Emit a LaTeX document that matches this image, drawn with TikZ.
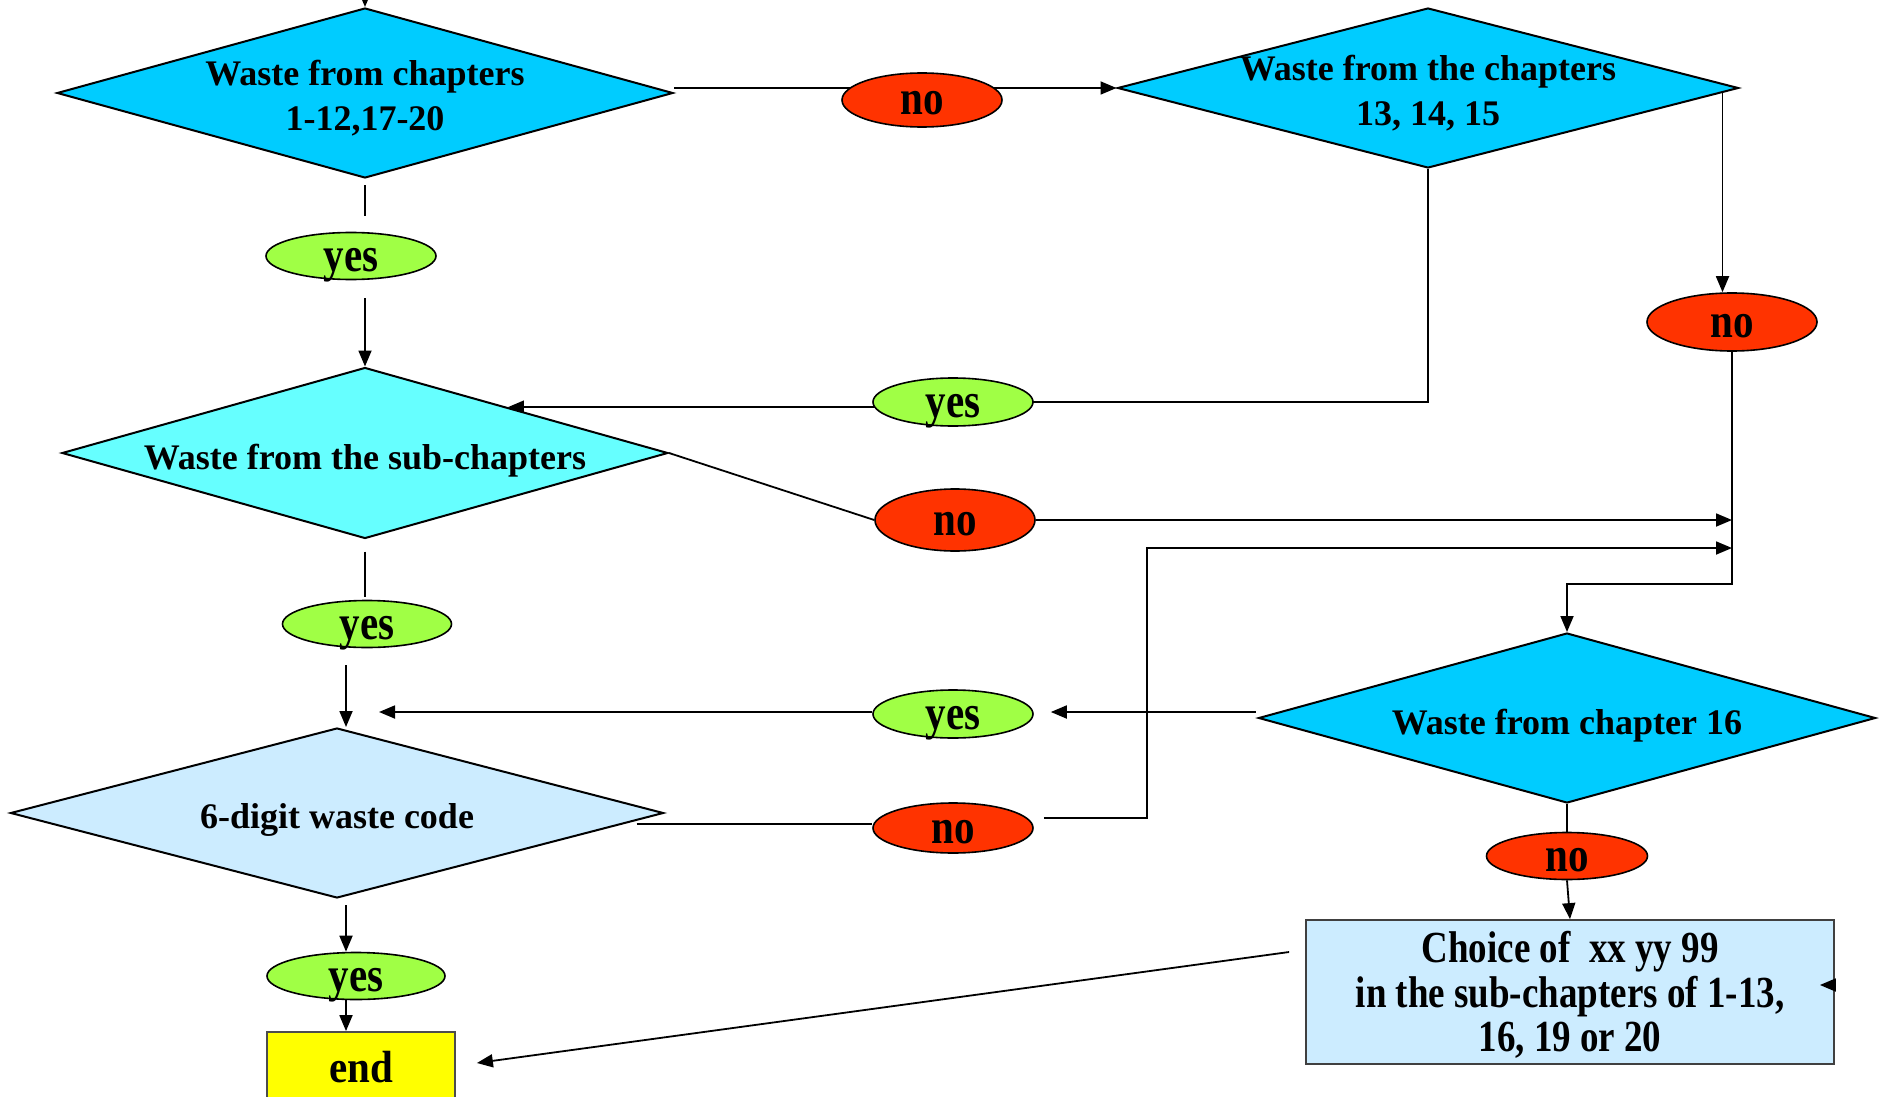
\documentclass[tikz,border=0pt]{standalone}
\usepackage{fontspec}
\setmainfont{Liberation Serif}
\usetikzlibrary{shapes.geometric, arrows.meta, calc}
\pgfdeclarelayer{bg}
\pgfsetlayers{bg,main}
\definecolor{dcyan}{HTML}{00CCFF}
\definecolor{lcyan}{HTML}{66FFFF}
\definecolor{pale}{HTML}{CCECFF}
\definecolor{nored}{HTML}{FF3300}
\definecolor{yesgreen}{HTML}{A0FF45}
\definecolor{endyellow}{HTML}{FFFF00}
\tikzset{
  dia/.style={diamond, draw=black, line width=1pt, inner sep=0pt},
  dtext/.style={align=center, font=\fontsize{18}{22.5}\selectfont\bfseries, inner sep=0pt, yshift=-2.5pt},
  dtext1/.style={dtext, yshift=-1.2pt},
  ell/.style={ellipse, draw=black, line width=0.8pt, inner sep=0pt},
  yesell/.style={ell, fill=yesgreen},
  noell/.style={ell, fill=nored},
  lbl/.style={font=\fontsize{20.5}{24}\selectfont\bfseries, inner sep=0pt, text height=15pt, text depth=0pt},
  conn/.style={line width=0.9pt, black},
  arr/.style={conn, -{Triangle[length=8pt, width=6.5pt]}},
}
\begin{document}
\begin{tikzpicture}[x=0.5pt, y=-0.5pt]
\useasboundingbox (0,0) rectangle (1879,1097);
\clip (0,0) rectangle (1879,1097);
\begin{pgfonlayer}{bg}
\fill[white] (0,0) rectangle (1879,1097);
\end{pgfonlayer}

% decision diamonds
\node[dia, fill=dcyan, minimum width=308pt, minimum height=85pt] (A) at (365,93) {};
\node[dia, fill=dcyan, minimum width=310.5pt, minimum height=80pt] (B) at (1428,88) {};
\node[dia, fill=lcyan, minimum width=303pt, minimum height=85.5pt] (C) at (365,453) {};
\node[dia, fill=dcyan, minimum width=308.5pt, minimum height=85pt] (D) at (1567,718) {};
\node[dia, fill=pale, minimum width=326.5pt, minimum height=85pt] (E) at (337,813) {};

\node[dtext] (At) at (A) {Waste from chapters\\1-12,17-20};
\node[dtext] (Bt) at (B) {Waste from the chapters\\13, 14, 15};
\node[dtext1] (Ct) at (C) {Waste from the sub-chapters};
\node[dtext1] (Dt) at (D) {Waste from chapter 16};
\node[dtext1] (Et) at (E) {6-digit waste code};

% yes / no ellipses
\node[noell, minimum width=80pt, minimum height=27pt] (noA) at (922,100) {};
\node[yesell, minimum width=85pt, minimum height=23.5pt] (yes1) at (351,256) {};
\node[yesell, minimum width=80pt, minimum height=24pt] (yes2) at (953,402) {};
\node[noell, minimum width=80pt, minimum height=31pt] (noC) at (955,520) {};
\node[noell, minimum width=85pt, minimum height=29pt] (noB) at (1732,322) {};
\node[yesell, minimum width=84.5pt, minimum height=23.5pt] (yes3) at (367,624) {};
\node[yesell, minimum width=80pt, minimum height=24pt] (yes4) at (953,714) {};
\node[noell, minimum width=80pt, minimum height=25pt] (noD) at (953,828) {};
\node[yesell, minimum width=89pt, minimum height=23.5pt] (yes5) at (356,976) {};
\node[noell, minimum width=80.5pt, minimum height=23.5pt] (noE) at (1567,856) {};

\node[lbl] (noAt) at (noA) {\scalebox{1}[1.2]{no}};
\node[lbl] (yes1t) at (yes1) {\scalebox{1}[1.2]{yes}};
\node[lbl] (yes2t) at (yes2) {\scalebox{1}[1.2]{yes}};
\node[lbl] (noCt) at (noC) {\scalebox{1}[1.2]{no}};
\node[lbl] (noBt) at (noB) {\scalebox{1}[1.2]{no}};
\node[lbl] (yes3t) at (yes3) {\scalebox{1}[1.2]{yes}};
\node[lbl] (yes4t) at (yes4) {\scalebox{1}[1.2]{yes}};
\node[lbl] (noDt) at (noD) {\scalebox{1}[1.2]{no}};
\node[lbl] (yes5t) at (yes5) {\scalebox{1}[1.2]{yes}};
\node[lbl] (noEt) at (noE) {\scalebox{1}[1.2]{no}};

% boxes
\node[draw=black!75, fill=pale, line width=0.9pt, minimum width=264pt, minimum height=72pt,
      inner sep=0pt] (F) at (1570,992) {};
\node[inner sep=0pt, font=\fontsize{18.5}{18.3}\selectfont\bfseries, yshift=-3pt] (Ft) at (F)
  {\scalebox{1}[1.2]{\begin{tabular}{@{}c@{}}Choice of\ \ xx yy 99\\in the sub-chapters of 1-13,\\16, 19 or 20\end{tabular}}};
\node[draw=black!70, fill=endyellow, line width=0.9pt, minimum width=94pt, minimum height=35pt,
      inner sep=0pt, font=\fontsize{20.5}{24}\selectfont\bfseries] (fin) at (361,1067)
  {\scalebox{1}[1.1]{end}};

% small arrowhead inside F
\draw[arr] ($(F.east)+(0,-7)$) -- ++(-15,0);

% connectors
\begin{pgfonlayer}{bg}
\clip (0,0) rectangle (1879,1097);
\coordinate (topin) at (365,-14);
\draw[arr] (topin) -- (A.north);
% A -> no -> B
\draw[arr] (A.east |- B.west) -- (B.west);
% A -> yes -> C
\draw[conn, shorten <=3pt] (A.south) -- ($(A.south |- yes1.north)+(0,-16)$);
\draw[arr] ($(A.south |- yes1.south)+(0,18)$) -- (C.north);
% B -> yes -> C
\coordinate (Cin) at ($(C.north)!0.47!(C.east)$);
\draw[conn] (B.south) |- (yes2.center);
\draw[arr] (yes2.center |- Cin) -- (Cin);
% B -> no
\coordinate (Bdrop) at ($(B.east)+(-17,4)$);
\draw[arr] (Bdrop) -- (Bdrop |- noB.north);
% C -> no -> right
\draw[conn] (C.east) -- (noC.west);
\draw[arr] (noC.east) -- (noC.east -| noB.south);
% no (B) -> D
\coordinate (jn) at (1733,584);
\draw[arr] (noB.south) -- (noB.south |- jn) -| (D.north);
% E -> no -> up -> right
\draw[conn] ($(E.east |- noD.west)+(-28,-4)$) -- ($(noD.west)+(0,-4)$);
\coordinate (kn) at (1147,548);
\draw[arr] ($(noD.east)+(10,-10)$) -| (kn) -- (kn -| noB.south);
% D -> yes -> left
\coordinate (Dout) at ($(D.west)+(-2,-6)$);
\draw[arr] (Dout) -- ($(yes4.east |- Dout)+(17,0)$);
\coordinate (y4tip) at (379,712);
\draw[arr] (yes4.west |- y4tip) -- (y4tip);
% C -> yes -> E
\coordinate (ex) at (346,0);
\draw[conn, shorten <=6pt] (C.south) -- ($(C.south |- yes3.north)+(0,-3)$);
\draw[arr] ($(ex |- yes3.south)+(0,17)$) -- (ex |- E.north);
% E -> yes -> end
\draw[arr] ($(ex |- E.south)+(0,6)$) -- (ex |- yes5.north);
\draw[arr] (ex |- yes5.south) -- (ex |- fin.north);
% D -> no -> F
\draw[conn] (D.south) -- (noE.north);
\draw[arr] (noE.south) -- (F.north);
% F -> end
\draw[arr] ($(F.west)+(-16,-40)$) -- ($(fin.east)+(21,-4)$);
\end{pgfonlayer}
\end{tikzpicture}
\end{document}
